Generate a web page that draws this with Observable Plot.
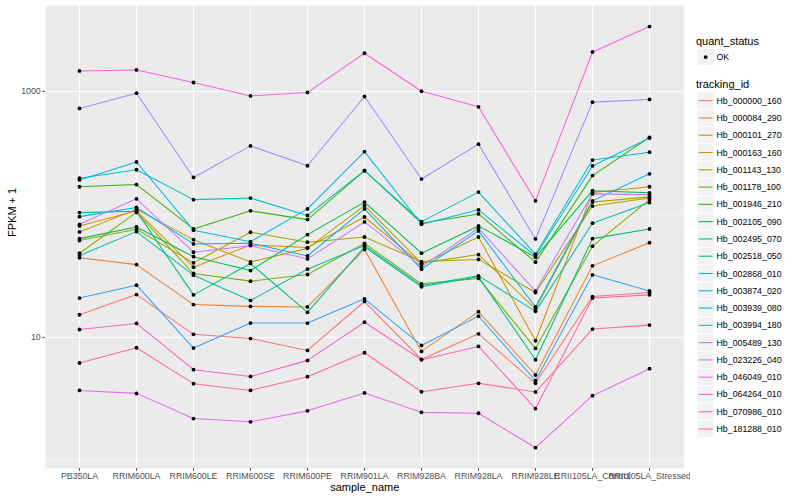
<!DOCTYPE html>
<html>
<head>
<meta charset="utf-8">
<script src="https://cdn.jsdelivr.net/npm/d3@7"></script>
<script src="https://cdn.jsdelivr.net/npm/@observablehq/plot@0.6"></script>
<style>
  html, body { margin: 0; padding: 0; background: white; }
  #wrap { position: relative; width: 800px; height: 500px; font-family: "Liberation Sans", Arial, sans-serif; }
  #chart { position: absolute; left: 0; top: 0; }
  #legend { position: absolute; left: 690px; top: 0; }
</style>
</head>
<body>
<div id="wrap"><div id="chart"></div><div id="legend"></div></div>
<script>
// ---- data (FPKM + 1) ----
const samples = ["PB350LA","RRIM600LA","RRIM600LE","RRIM600SE","RRIM600PE","RRIM901LA","RRIM928BA","RRIM928LA","RRIM928LE","RRII105LA_Control","RRII105LA_Stressed"];
const trackingIds = ["Hb_000000_160","Hb_000084_290","Hb_000101_270","Hb_000163_160","Hb_001143_130","Hb_001178_100","Hb_001946_210","Hb_002105_090","Hb_002495_070","Hb_002518_050","Hb_002868_010","Hb_003874_020","Hb_003939_080","Hb_003994_180","Hb_005489_130","Hb_023226_040","Hb_046049_010","Hb_064264_010","Hb_070986_010","Hb_181288_010"];
const quantStatus = ["OK"];

const hb_000000_160 = [15.3, 22.3, 10.6, 9.8, 7.84, 19.6, 6.63, 10.7, 4.24, 21.5, 23.2];
const hb_000084_290 = [44.4, 39.1, 18.5, 17.9, 17.7, 52.0, 7.70, 16.2, 4.95, 38.2, 59.0];
const hb_000101_270 = [80.7, 107, 37.3, 56.5, 53.8, 95.4, 39.4, 65.6, 9.4, 151, 168];
const hb_000163_160 = [72.1, 110, 62.4, 41.1, 53.0, 118, 40.2, 47.2, 17.1, 126, 139];
const hb_001143_130 = [61.3, 75.8, 40.4, 71.7, 59.5, 65.6, 41.4, 43.1, 23.2, 117, 136];
const hb_001178_100 = [48.4, 104, 33.1, 28.7, 32.5, 58.2, 27.3, 30.2, 8.14, 55.2, 132];
const hb_001946_210 = [168, 175, 76.3, 107, 90.8, 227, 84.9, 101, 40.9, 207, 424];
const hb_002105_090 = [63.6, 79.2, 45.4, 35.0, 68.5, 126, 48.4, 80.7, 44.9, 156, 150];
const hb_002495_070 = [103.5, 106, 22.2, 39.9, 16.0, 54.5, 25.8, 31.1, 6.59, 63.6, 76.3];
const hb_002518_050 = [46.3, 72.5, 32.1, 20.0, 35.9, 56.0, 26.4, 31.7, 16.3, 84.9, 125];
const hb_002868_010 = [197, 231, 132, 136, 98.2, 227, 87.5, 152, 47.5, 277, 321];
const hb_003874_020 = [191, 267, 74.5, 60.1, 111, 324, 83.2, 109, 46.0, 248, 418];
const hb_003939_080 = [96.0, 114, 57.6, 58.4, 46.0, 111, 35.9, 73.5, 17.7, 129, 214];
const hb_003994_180 = [20.9, 26.6, 8.20, 13.1, 13.1, 20.6, 8.61, 14.9, 4.45, 32.3, 23.9];
const hb_005489_130 = [728, 968, 200, 361, 249, 910, 194, 373, 63.2, 819, 861];
const hb_023226_040 = [83.2, 134, 49.3, 55.8, 43.5, 86.9, 37.7, 77.3, 23.8, 147, 145];
const hb_046049_010 = [3.71, 3.51, 2.19, 2.06, 2.53, 3.54, 2.46, 2.42, 1.27, 3.36, 5.57];
const hb_064264_010 = [1469, 1496, 1183, 920, 982, 2046, 1005, 750, 129, 2095, 3373];
const hb_070986_010 = [11.6, 13.0, 5.47, 4.82, 6.51, 13.3, 6.59, 8.45, 2.64, 20.9, 22.2];
const hb_181288_010 = [6.20, 8.25, 4.21, 3.71, 4.80, 7.51, 3.62, 4.24, 3.60, 11.7, 12.6];

const yTicks = [10, 1000];

// ---- styling ----
const palette = ["#F8766D","#EA8331","#D89000","#C09B00","#A3A500","#7CAE00","#39B600","#00BB4E","#00BF7D","#00C1A3","#00BFC4","#00BAE0","#00B0F6","#35A2FF","#9590FF","#C77CFF","#E76BF3","#FA62DB","#FF62BC","#FF6C91"];

const seriesList = [hb_000000_160, hb_000084_290, hb_000101_270, hb_000163_160, hb_001143_130, hb_001178_100, hb_001946_210, hb_002105_090, hb_002495_070, hb_002518_050, hb_002868_010, hb_003874_020, hb_003939_080, hb_003994_180, hb_005489_130, hb_023226_040, hb_046049_010, hb_064264_010, hb_070986_010, hb_181288_010];

const rows = trackingIds.flatMap((id, i) =>
  seriesList[i].map((v, j) => ({ id, sample: samples[j], value: v, status: quantStatus[0] }))
);

const chart = Plot.plot({
  width: 690,
  height: 500,
  marginLeft: 45,
  marginRight: 6.5,
  marginTop: 5,
  marginBottom: 32,
  style: { fontFamily: "Liberation Sans, Arial, sans-serif", fontSize: "8.8px", background: "white" },
  x: { type: "point", domain: samples, padding: 0.6, label: null },
  y: { type: "log", domain: [0.86, 5000], label: null },
  color: { domain: trackingIds, range: palette },
  marks: [
    Plot.frame({ fill: "#EBEBEB", stroke: "none" }),
    Plot.ruleY([1, 100], { stroke: "white", strokeWidth: 0.55 }),
    Plot.ruleY(yTicks, { stroke: "white", strokeWidth: 1.1 }),
    Plot.ruleX(samples, { stroke: "white", strokeWidth: 1.1 }),
    Plot.line(rows, { x: "sample", y: "value", z: "id", stroke: "id", strokeWidth: 1.05 }),
    Plot.dot(rows, { x: "sample", y: "value", r: 1.9, fill: "black", stroke: "none" }),
    Plot.axisX({ tickSize: 2.75, tickPadding: 1.6, color: "#4D4D4D", fontSize: 8.8, label: null }),
    Plot.axisY(yTicks, { tickSize: 2.75, tickPadding: 2, color: "#4D4D4D", fontSize: 8.8, tickFormat: d => String(d), label: null }),
    Plot.text(["sample_name"], { text: d => d, frameAnchor: "bottom", dy: 19, fontSize: 11, fill: "black", lineAnchor: "middle" }),
    Plot.text(["FPKM + 1"], { text: d => d, frameAnchor: "left", dx: -33, rotate: -90, fontSize: 11, fill: "black" })
  ]
});
document.getElementById("chart").appendChild(chart);

// ---- legend ----
const lg = d3.select("#legend").append("svg")
  .attr("width", 110).attr("height", 500)
  .style("font-family", "Liberation Sans, Arial, sans-serif");
const ox = -690;
const keyW = 17.28;
lg.append("text").attr("x", 696 + ox).attr("y", 40.7).attr("dominant-baseline", "central")
  .attr("font-size", 11).attr("fill", "black").text("quant_status");
quantStatus.forEach((s, i) => {
  const cy = 57.1 + i * keyW;
  lg.append("rect").attr("x", 697 + ox).attr("y", cy - keyW / 2).attr("width", keyW).attr("height", keyW)
    .attr("fill", "#F2F2F2").attr("stroke", "white");
  lg.append("circle").attr("cx", 697 + ox + keyW / 2).attr("cy", cy).attr("r", 1.9).attr("fill", "black");
  lg.append("text").attr("x", 716.5 + ox).attr("y", cy).attr("dominant-baseline", "central")
    .attr("font-size", 8.8).attr("fill", "black").text(s);
});
lg.append("text").attr("x", 696 + ox).attr("y", 84.3).attr("dominant-baseline", "central")
  .attr("font-size", 11).attr("fill", "black").text("tracking_id");
trackingIds.forEach((id, i) => {
  const cy = 100.7 + i * keyW;
  lg.append("rect").attr("x", 697 + ox).attr("y", cy - keyW / 2).attr("width", keyW).attr("height", keyW)
    .attr("fill", "#F2F2F2").attr("stroke", "white");
  lg.append("line").attr("x1", 698.7 + ox).attr("x2", 712.6 + ox).attr("y1", cy).attr("y2", cy)
    .attr("stroke", palette[i]).attr("stroke-width", 1.1);
  lg.append("text").attr("x", 716.5 + ox).attr("y", cy).attr("dominant-baseline", "central")
    .attr("font-size", 8.8).attr("fill", "black").text(id);
});
</script>
</body>
</html>
